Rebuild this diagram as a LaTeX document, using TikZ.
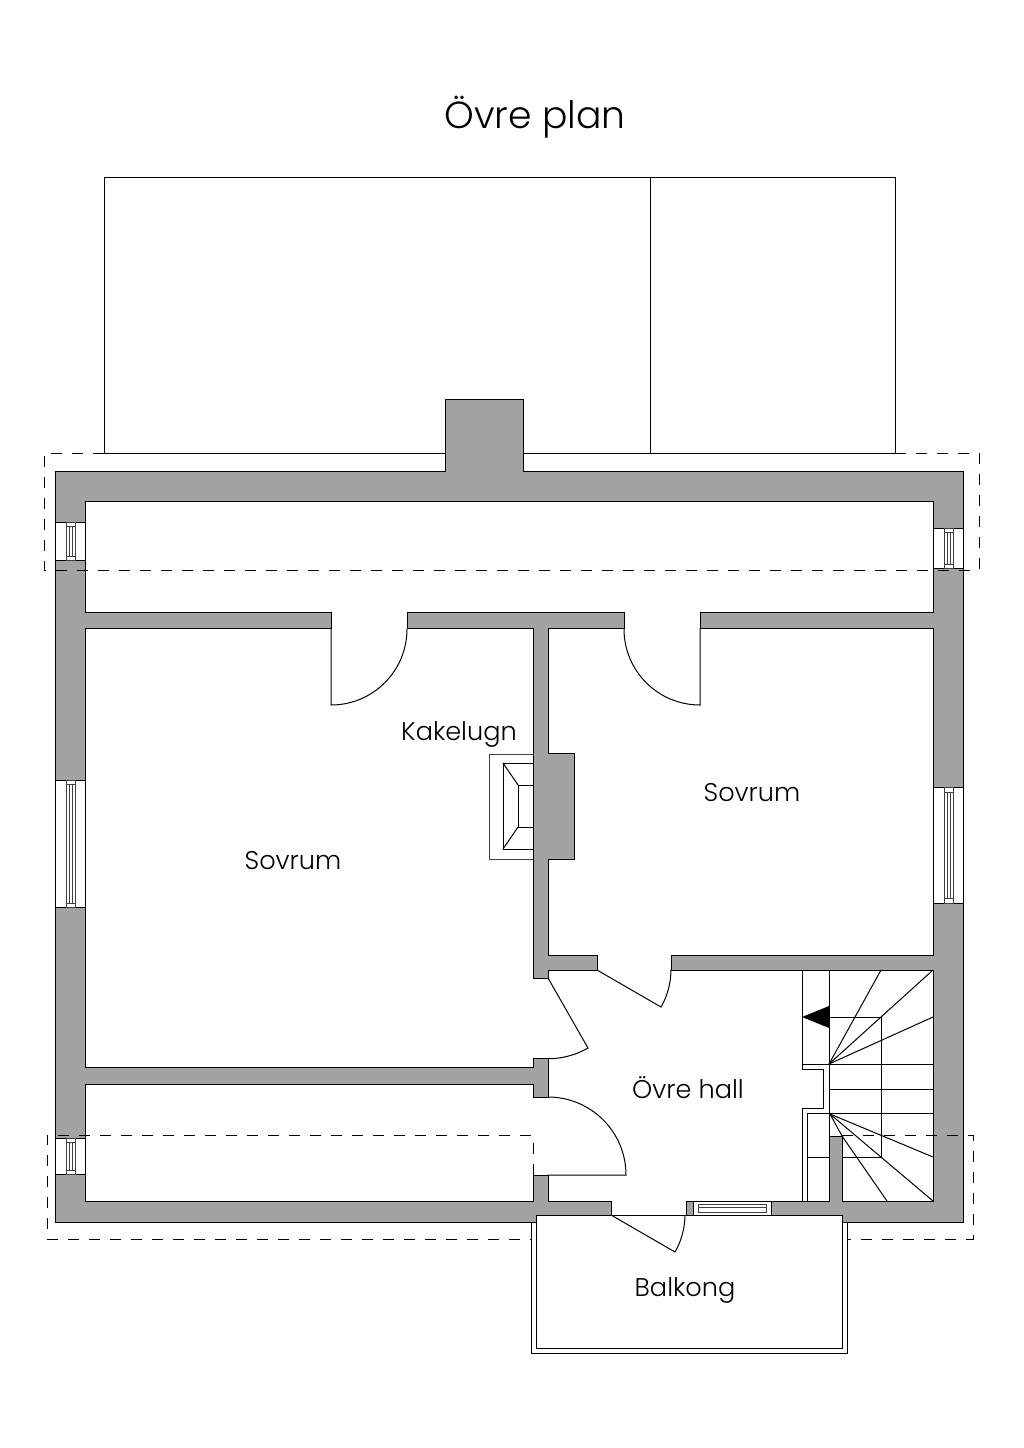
\documentclass[tikz,border=0pt]{standalone}
\usepackage{fontspec}
\setmainfont{Poppins Light}
\definecolor{wallgrey}{RGB}{163,163,163}
\tikzset{
  wall/.style={fill=wallgrey,draw=black,line width=1pt,even odd rule,line join=miter},
  thin line/.style={draw=black,line width=1pt},
  hair/.style={draw=black!75,line width=0.8pt},
  hidden line/.style={draw=black,line width=0.9pt,dash pattern=on 11pt off 10pt},
  label text/.style={anchor=base,inner sep=0pt,text=black,font=\fontsize{25.6}{27}\selectfont},
  title text/.style={anchor=base,inner sep=0pt,text=black,font=\fontsize{37.7}{39}\selectfont}
}
% vertical window in a wall: left x, top y, bottom y, inset
\newcommand{\wallwin}[4]{%
  \draw[thin line,fill=white] (#1,#2) rectangle (#1+30,#3);
  \draw[hair] (#1+11,#2) rectangle (#1+20,#3);
  \draw[hair] (#1+14,#2+#4) rectangle (#1+17,#3-#4);
  \draw[hair] (#1+11,#2+#4) -- (#1+20,#2+#4);
  \draw[hair] (#1+11,#3-#4) -- (#1+20,#3-#4);
}
\begin{document}
\begin{tikzpicture}[x=1pt,y=-1pt]
\useasboundingbox (0,0) rectangle (1024,1448);
\fill[white] (0,0) rectangle (1024,1448);
% roof
\draw[thin line] (445,453) -- (104,453) -- (104,177) -- (895,177) -- (895,453) -- (523,453);
\draw[thin line] (650,177) -- (650,453);
% balcony
\draw[thin line] (531,1222) -- (531,1353) -- (847,1353) -- (847,1222);
\draw[wall,fill=none] (536,1215) -- (536,1348) -- (842,1348) -- (842,1215);
% walls
\path[wall]
  (55,471) -- (445,471) -- (445,399) -- (523,399) -- (523,471) -- (963,471) -- (963,1222) -- (842,1222) -- (842,1215) -- (536,1215) -- (536,1222) -- (55,1222) -- cycle
  (85,501) -- (933,501) -- (933,612) -- (700,612) -- (700,628) -- (933,628) -- (933,955) -- (671,955) -- (671,970) -- (933,970) -- (933,1201) -- (842,1201) -- (842,1136) -- (829,1136) -- (829,1201) -- (771,1201) -- (771,1215) -- (693,1215) -- (693,1201) -- (686,1201) -- (686,1215) -- (611,1215) -- (611,1201) -- (548,1201) -- (548,1175) -- (533,1175) -- (533,1201) -- (85,1201) -- (85,1084) -- (533,1084) -- (533,1097) -- (548,1097) -- (548,1058) -- (533,1058) -- (533,1067) -- (85,1067) -- (85,628) -- (331,628) -- (331,612) -- (85,612) -- cycle
  (407,612) -- (624,612) -- (624,628) -- (548,628) -- (548,753) -- (574,753) -- (574,859) -- (548,859) -- (548,955) -- (597,955) -- (597,970) -- (548,970) -- (548,978) -- (533,978) -- (533,628) -- (407,628) -- cycle;
% wall windows
\wallwin{55}{522}{560}{4}
\wallwin{933}{528}{568}{4}
\wallwin{55}{780}{907}{4}
\wallwin{933}{787}{903}{5}
\wallwin{55}{1138}{1174}{4}
% balcony-side window
\draw[thin line] (693,1201) rectangle (771,1215);
\draw[hair] (698,1204) rectangle (766,1212);
\draw[hair] (698,1207.5) -- (766,1207.5);
% doors (y axis points down, so angles run clockwise on the page)
\draw[thin line] (331,628) -- (331,705) arc[start angle=90,end angle=0,radius=76];
\draw[thin line] (700,628) -- (700,705) arc[start angle=90,end angle=180,radius=76];
\draw[thin line] (597,970) -- (661,1007) arc[start angle=30,end angle=0,radius=74];
\draw[thin line] (548,978) -- (588,1048) arc[start angle=60,end angle=90,radius=80];
\draw[thin line] (548,1097) arc[start angle=-90,end angle=0,radius=78] -- (548,1175);
\draw[thin line] (611,1215) -- (675,1252) arc[start angle=30,end angle=0,radius=74];
% tiled stove
\draw[hair] (533,754) -- (489,754) -- (489,859) -- (533,859);
\draw[thin line] (533,763) -- (503,763) -- (503,849) -- (533,849);
\draw[thin line] (533,785) -- (518,785) -- (518,827) -- (533,827);
\draw[thin line] (503,763) -- (518,785);
\draw[thin line] (503,849) -- (518,827);
% stairs
\draw[thin line] (802,970) -- (802,1064) -- (829,1064);
\draw[thin line] (829,970) -- (829,1136);
\draw[thin line] (802,1069) -- (823,1069) -- (823,1108) -- (802,1108) -- (802,1201);
\draw[thin line] (802,1064) -- (802,1069);
\draw[thin line] (829,1113) -- (807,1113) -- (807,1201);
\draw[thin line] (807,1157) -- (829,1157);
\draw[thin line] (842,1157) -- (881,1157) -- (881,1017) -- (829,1017);
\draw[thin line] (829,1064) -- (933,1064);
\draw[thin line] (829,1089) -- (933,1089);
\draw[thin line] (829,1113) -- (933,1113);
\draw[thin line] (829,1064) -- (881,970);
\draw[thin line] (829,1064) -- (933,970);
\draw[thin line] (829,1064) -- (933,1017);
\draw[thin line] (830,1114) -- (842,1136);
\draw[thin line] (842,1136) -- (887,1201);
\draw[thin line] (830,1114) -- (933,1157);
\draw[thin line] (830,1114) -- (933,1201);
\fill[black] (802,1017) -- (829,1006) -- (829,1028) -- cycle;
% eaves above
\draw[hidden line] (104,453) -- (44,453) -- (44,570) -- (979,570) -- (979,453) -- (895,453);
\draw[hidden line] (533,1175) -- (533,1135) -- (47,1135) -- (47,1239) -- (531,1239);
\draw[hidden line] (842,1135) -- (973,1135) -- (973,1239) -- (847,1239);
% labels
\node[title text] (title) at (535,128) {Övre plan};
\node[label text] (kakel) at (459,740) {Kakelugn};
\node[label text] (sovl) at (293,869) {Sovrum};
\node[label text] (sovr) at (752,801) {Sovrum};
\node[label text] (hall) at (688,1098) {Övre hall};
\node[label text] (balk) at (685,1296) {Balkong};
\end{tikzpicture}
\end{document}
